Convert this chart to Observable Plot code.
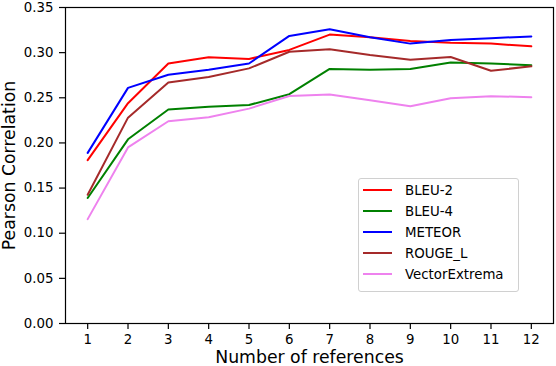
<!DOCTYPE html>
<html>
<head>
<meta charset="utf-8">
<script src="https://cdn.jsdelivr.net/npm/d3@7"></script>
<script src="https://cdn.jsdelivr.net/npm/@observablehq/plot@0.6"></script>
<style>
  html, body { margin: 0; padding: 0; background: #fff; }
  #wrap { position: relative; width: 556px; height: 366px; font-family: "DejaVu Sans", sans-serif; }
  #legend { position: absolute; left: 358px; top: 178px; width: 159px; height: 112px;
            border: 1px solid #d0d0d0; border-radius: 3px; background: rgba(255,255,255,0.8);
            font-size: 13.33px; color: #000; }
  .row { position: absolute; left: 4px; height: 20px; display: flex; align-items: center; }
  .sw { width: 29px; height: 2px; margin-right: 13px; }
</style>
</head>
<body>
<div id="wrap"><div id="legend"></div></div>
<script>
const refs = [1, 2, 3, 4, 5, 6, 7, 8, 9, 10, 11, 12];
const seriesNames = ["BLEU-2", "BLEU-4", "METEOR", "ROUGE_L", "VectorExtrema"];
const seriesColors = ["#ff0000", "#008000", "#0000ff", "#a52a2a", "#ee82ee"];
const bleu2  = [0.181, 0.244, 0.288, 0.295, 0.293, 0.303, 0.320, 0.317, 0.313, 0.311, 0.310, 0.307];
const bleu4  = [0.139, 0.204, 0.237, 0.240, 0.242, 0.254, 0.282, 0.281, 0.282, 0.289, 0.288, 0.286];
const meteor = [0.189, 0.261, 0.2755, 0.281, 0.288, 0.3185, 0.326, 0.317, 0.310, 0.314, 0.316, 0.318];
const rougeL = [0.1426, 0.228, 0.267, 0.273, 0.2826, 0.301, 0.3037, 0.2974, 0.2922, 0.2951, 0.280, 0.2848];
const vecExt = [0.1156, 0.195, 0.224, 0.2285, 0.238, 0.252, 0.2537, 0.2473, 0.2407, 0.2496, 0.2518, 0.2507];
const yTicks = [0, 0.05, 0.10, 0.15, 0.20, 0.25, 0.30, 0.35];

const allSeries = [bleu2, bleu4, meteor, rougeL, vecExt];
const table = [];
allSeries.forEach((vals, i) => vals.forEach((v, j) => table.push({name: seriesNames[i], x: refs[j], y: v})));

const chart = Plot.plot({
  width: 556,
  height: 366,
  marginLeft: 65,
  marginRight: 3,
  marginTop: 7,
  marginBottom: 43,
  style: {fontFamily: "DejaVu Sans, sans-serif", fontSize: "13.33px", color: "#000", background: "#fff"},
  x: {domain: [0.45, 12.55]},
  y: {domain: [0, 0.35]},
  color: {domain: seriesNames, range: seriesColors},
  marks: [
    Plot.axisX({ticks: refs, tickSize: 6, tickPadding: 5, tickFormat: d => String(d),
      label: "Number of references", labelAnchor: "center", labelArrow: "none", labelOffset: 39,
      strokeWidth: 1.2}),
    Plot.axisY({ticks: yTicks, tickSize: 6, tickPadding: 6, tickFormat: d3.format(".2f"),
      label: "Pearson Correlation", labelAnchor: "center", labelArrow: "none", labelOffset: 63,
      strokeWidth: 1.2}),
    Plot.line(table, {x: "x", y: "y", z: "name", stroke: "name", strokeWidth: 2}),
    Plot.frame({stroke: "#000", strokeWidth: 1.2})
  ]
});
const wrap = document.getElementById("wrap");
wrap.insertBefore(chart, wrap.firstChild);
chart.querySelectorAll("[aria-label='x-axis label'] text, [aria-label='y-axis label'] text, [aria-label='x-axis label'], [aria-label='y-axis label']").forEach(t => t.setAttribute("font-size", "17.3px"));

const legend = document.getElementById("legend");
seriesNames.forEach((n, i) => {
  const r = document.createElement("div");
  r.className = "row";
  r.style.top = (1 + i * 21) + "px";
  const s = document.createElement("div");
  s.className = "sw";
  s.style.background = seriesColors[i];
  const t = document.createElement("span");
  t.textContent = n;
  r.appendChild(s); r.appendChild(t);
  legend.appendChild(r);
});
</script>
</body>
</html>
